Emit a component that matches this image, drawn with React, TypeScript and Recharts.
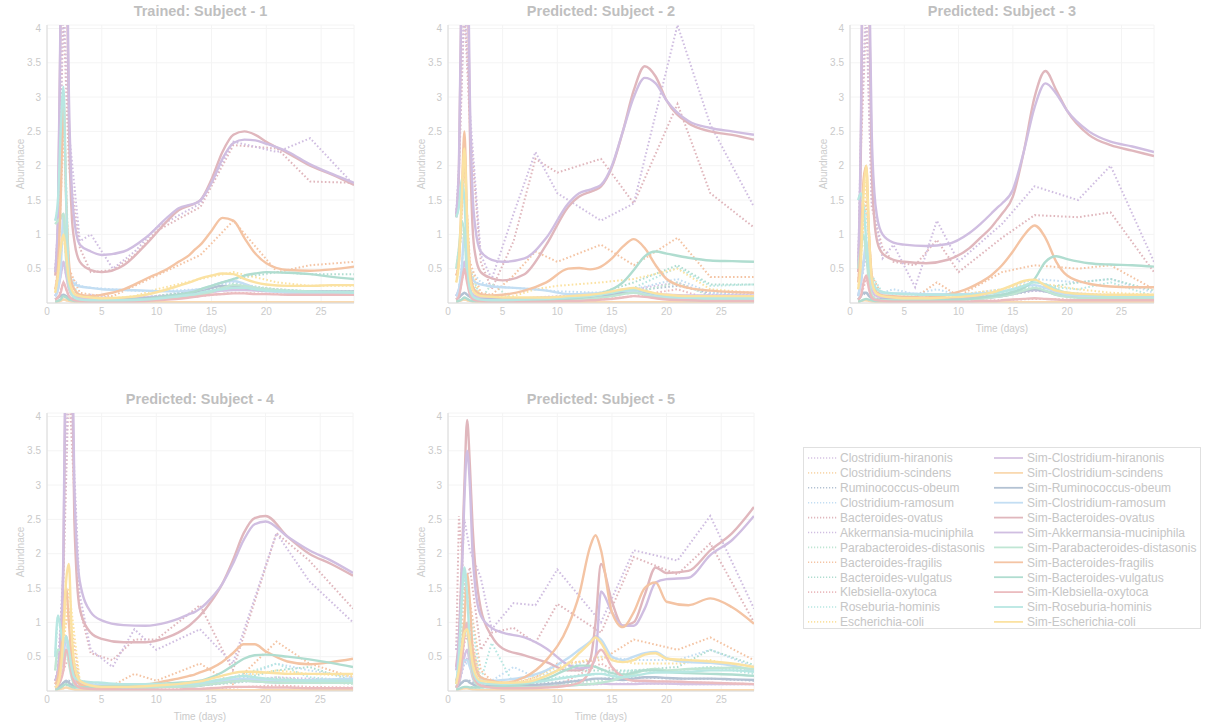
import { LineChart, Line, XAxis, YAxis, CartesianGrid } from 'recharts';

const FONT = '"Liberation Sans", Arial, Helvetica, sans-serif';

const SPECIES = [
  'Clostridium-hiranonis', 'Clostridium-scindens', 'Ruminococcus-obeum', 'Clostridium-ramosum',
  'Bacteroides-ovatus', 'Akkermansia-muciniphila', 'Parabacteroides-distasonis', 'Bacteroides-fragilis',
  'Bacteroides-vulgatus', 'Klebsiella-oxytoca', 'Roseburia-hominis', 'Escherichia-coli',
];

const COLORS = [
  '#d6c3e3', '#f9d9b0', '#b3c2d3', '#c3def3', '#e0b7bd', '#d0bee1',
  '#c0e6d4', '#f4c4a4', '#b0ddd0', '#ebbcbf', '#b8e7e2', '#fbe2a2',
];

const X_TICKS = [0, 5, 10, 15, 20, 25];
const Y_TICKS = [0.5, 1, 1.5, 2, 2.5, 3, 3.5, 4];

// simulation time grid (days)
const SIM_T = [0.75, 1, 1.25, 1.5, 1.75, 2, 2.25, 2.5, 3, 4, 5, 7, 9, 11, 12, 13, 13.5, 14, 15, 16, 17, 18, 19, 20, 22, 24, 26, 28];
// sampling days of the measured data
const OBS_T = [0.75, 1, 1.5, 2, 3, 4, 6, 8, 10, 14, 17, 21, 24, 28];

const SIM_1 = [
  [0.1, 0.2, 0.4, 0.6, 0.4, 0.2, 0.12, 0.1, 0.08, 0.07, 0.07, 0.07, 0.08, 0.1, 0.11, 0.12, 0.13, 0.14, 0.16, 0.18, 0.19, 0.19, 0.18, 0.17, 0.17, 0.16, 0.16, 0.16],
  [0.02, 0.02, 0.03, 0.05, 0.04, 0.03, 0.02, 0.02, 0.01, 0.01, 0.01, 0.01, 0.01, 0.01, 0.01, 0.01, 0.01, 0.01, 0.01, 0.01, 0.01, 0.01, 0.01, 0.01, 0.01, 0.01, 0.01, 0.01],
  [0.05, 0.08, 0.1, 0.12, 0.1, 0.08, 0.06, 0.05, 0.04, 0.04, 0.04, 0.05, 0.07, 0.1, 0.12, 0.15, 0.16, 0.18, 0.22, 0.25, 0.24, 0.22, 0.2, 0.18, 0.17, 0.17, 0.17, 0.17],
  [0.1, 0.2, 0.5, 1.3, 0.8, 0.45, 0.32, 0.28, 0.24, 0.22, 0.2, 0.19, 0.18, 0.17, 0.17, 0.18, 0.19, 0.2, 0.25, 0.3, 0.32, 0.28, 0.22, 0.18, 0.15, 0.14, 0.14, 0.14],
  [0.4, 1.2, 4.3, 7.5, 5.5, 2.6, 1.3, 0.9, 0.6, 0.48, 0.45, 0.55, 0.85, 1.2, 1.35, 1.42, 1.45, 1.5, 1.8, 2.2, 2.45, 2.5, 2.45, 2.35, 2.18, 2.0, 1.87, 1.72],
  [0.45, 1.3, 4.5, 8, 6, 3, 1.7, 1.2, 0.85, 0.75, 0.7, 0.75, 0.95, 1.25, 1.38, 1.43, 1.45, 1.5, 1.75, 2.1, 2.33, 2.38, 2.37, 2.32, 2.2, 2.02, 1.88, 1.75],
  [1.15, 1.2, 1.25, 1.3, 0.6, 0.25, 0.12, 0.08, 0.05, 0.04, 0.04, 0.04, 0.05, 0.07, 0.08, 0.1, 0.11, 0.12, 0.16, 0.22, 0.26, 0.25, 0.22, 0.2, 0.18, 0.17, 0.16, 0.16],
  [0.2, 0.5, 1.5, 3.0, 1.5, 0.6, 0.3, 0.2, 0.12, 0.1, 0.12, 0.2, 0.35, 0.5, 0.6, 0.7, 0.78, 0.85, 1.05, 1.24, 1.2, 0.95, 0.72, 0.58, 0.48, 0.47, 0.49, 0.53],
  [0.02, 0.03, 0.05, 0.1, 0.08, 0.05, 0.04, 0.03, 0.03, 0.03, 0.03, 0.04, 0.06, 0.1, 0.12, 0.15, 0.17, 0.2, 0.25, 0.3, 0.35, 0.4, 0.43, 0.45, 0.44, 0.42, 0.38, 0.35],
  [0.05, 0.08, 0.15, 0.3, 0.2, 0.1, 0.06, 0.04, 0.03, 0.02, 0.02, 0.02, 0.03, 0.05, 0.06, 0.08, 0.09, 0.1, 0.12, 0.13, 0.14, 0.14, 0.13, 0.13, 0.12, 0.12, 0.12, 0.12],
  [1.2, 1.5, 2.5, 3.15, 1.5, 0.4, 0.15, 0.08, 0.05, 0.04, 0.04, 0.04, 0.05, 0.08, 0.1, 0.12, 0.13, 0.15, 0.18, 0.2, 0.22, 0.22, 0.2, 0.18, 0.17, 0.16, 0.16, 0.15],
  [0.15, 0.4, 0.8, 1.0, 0.7, 0.35, 0.2, 0.13, 0.1, 0.08, 0.07, 0.08, 0.12, 0.2, 0.25, 0.3, 0.33, 0.36, 0.4, 0.43, 0.42, 0.35, 0.3, 0.27, 0.25, 0.25, 0.26, 0.26],
];
const OBS_1 = [
  [0.1, 0.2, 0.6, 0.2, 0.08, 0.12, 0.07, 0.08, 0.1, 0.14, 0.2, 0.18, 0.16, 0.16],
  [0.02, 0.02, 0.05, 0.03, 0.01, 0.01, 0.01, 0.01, 0.01, 0.01, 0.01, 0.01, 0.01, 0.01],
  [0.05, 0.08, 0.12, 0.08, 0.05, 0.04, 0.05, 0.07, 0.1, 0.18, 0.25, 0.2, 0.17, 0.17],
  [0.1, 0.2, 1.2, 0.4, 0.25, 0.22, 0.2, 0.18, 0.17, 0.2, 0.3, 0.18, 0.15, 0.15],
  [0.45, 1.0, 4.2, 2.0, 0.8, 0.45, 0.48, 0.7, 1.05, 1.4, 2.3, 2.25, 1.77, 1.75],
  [0.5, 1.1, 4.5, 2.5, 0.9, 1.0, 0.5, 0.75, 1.1, 1.45, 2.35, 2.2, 2.4, 1.72],
  [1.15, 1.2, 1.25, 0.3, 0.06, 0.1, 0.04, 0.05, 0.07, 0.12, 0.28, 0.2, 0.17, 0.16],
  [0.2, 0.5, 2.5, 0.5, 0.15, 0.12, 0.1, 0.25, 0.4, 0.7, 1.2, 0.45, 0.55, 0.6],
  [0.02, 0.03, 0.1, 0.05, 0.03, 0.03, 0.04, 0.06, 0.1, 0.2, 0.35, 0.45, 0.42, 0.42],
  [0.05, 0.08, 0.3, 0.1, 0.03, 0.02, 0.02, 0.03, 0.05, 0.1, 0.15, 0.13, 0.12, 0.12],
  [1.2, 1.4, 3.1, 0.4, 0.08, 0.05, 0.04, 0.05, 0.08, 0.15, 0.22, 0.18, 0.16, 0.15],
  [0.15, 0.3, 1.0, 0.3, 0.1, 0.08, 0.07, 0.1, 0.2, 0.35, 0.45, 0.3, 0.25, 0.25],
];

const SIM_2 = [
  [0.1, 0.2, 0.4, 0.6, 0.4, 0.2, 0.13, 0.1, 0.08, 0.07, 0.07, 0.07, 0.08, 0.09, 0.1, 0.11, 0.12, 0.13, 0.15, 0.17, 0.18, 0.16, 0.13, 0.12, 0.11, 0.11, 0.11, 0.11],
  [0.02, 0.03, 0.04, 0.05, 0.04, 0.03, 0.02, 0.02, 0.01, 0.01, 0.01, 0.01, 0.01, 0.01, 0.01, 0.01, 0.01, 0.01, 0.01, 0.01, 0.01, 0.01, 0.01, 0.01, 0.01, 0.01, 0.01, 0.01],
  [0.05, 0.08, 0.12, 0.15, 0.12, 0.09, 0.07, 0.06, 0.05, 0.05, 0.05, 0.05, 0.05, 0.06, 0.07, 0.08, 0.09, 0.1, 0.12, 0.15, 0.16, 0.14, 0.11, 0.09, 0.08, 0.08, 0.08, 0.08],
  [0.1, 0.2, 0.5, 1.0, 0.7, 0.45, 0.35, 0.3, 0.27, 0.24, 0.23, 0.21, 0.18, 0.13, 0.13, 0.14, 0.14, 0.15, 0.17, 0.18, 0.17, 0.13, 0.1, 0.08, 0.06, 0.05, 0.05, 0.05],
  [1.25, 1.9, 4.8, 7.5, 5.5, 2.5, 1.1, 0.7, 0.45, 0.36, 0.33, 0.42, 0.85, 1.4, 1.55, 1.62, 1.65, 1.7, 1.98, 2.5, 3.1, 3.45, 3.3, 2.95, 2.62, 2.5, 2.45, 2.38],
  [1.3, 2.0, 5, 8, 6, 3, 1.6, 1.1, 0.75, 0.63, 0.6, 0.65, 0.95, 1.45, 1.6, 1.65, 1.68, 1.72, 2.0, 2.5, 3.0, 3.28, 3.2, 2.95, 2.65, 2.55, 2.5, 2.45],
  [0.5, 0.8, 1.2, 1.0, 0.4, 0.15, 0.08, 0.05, 0.04, 0.03, 0.03, 0.03, 0.03, 0.04, 0.05, 0.06, 0.07, 0.08, 0.1, 0.13, 0.15, 0.12, 0.08, 0.06, 0.04, 0.04, 0.04, 0.03],
  [0.4, 0.6, 1.5, 2.5, 1.2, 0.5, 0.25, 0.18, 0.13, 0.11, 0.12, 0.18, 0.3, 0.5, 0.51, 0.49, 0.5, 0.53, 0.65, 0.82, 0.93, 0.8, 0.55, 0.35, 0.22, 0.18, 0.16, 0.15],
  [0.02, 0.03, 0.05, 0.08, 0.06, 0.04, 0.03, 0.03, 0.03, 0.03, 0.03, 0.03, 0.04, 0.06, 0.08, 0.1, 0.12, 0.14, 0.2, 0.3, 0.48, 0.68, 0.75, 0.72, 0.66, 0.62, 0.61, 0.6],
  [0.05, 0.1, 0.3, 0.5, 0.3, 0.12, 0.06, 0.04, 0.03, 0.02, 0.02, 0.02, 0.02, 0.03, 0.03, 0.04, 0.04, 0.05, 0.06, 0.08, 0.1, 0.09, 0.07, 0.05, 0.04, 0.03, 0.03, 0.03],
  [1.25, 1.4, 1.8, 1.5, 0.6, 0.2, 0.1, 0.07, 0.05, 0.04, 0.04, 0.05, 0.06, 0.08, 0.09, 0.1, 0.11, 0.12, 0.15, 0.18, 0.2, 0.17, 0.13, 0.1, 0.08, 0.07, 0.07, 0.07],
  [0.3, 0.6, 1.5, 2.25, 1.2, 0.4, 0.2, 0.14, 0.1, 0.09, 0.08, 0.08, 0.08, 0.1, 0.11, 0.12, 0.13, 0.14, 0.17, 0.2, 0.22, 0.18, 0.14, 0.12, 0.1, 0.1, 0.1, 0.1],
];
const OBS_2 = [
  [0.1, 0.2, 0.6, 0.2, 0.08, 0.07, 0.06, 0.08, 0.1, 0.12, 0.2, 0.3, 0.12, 0.12],
  [0.02, 0.03, 0.05, 0.03, 0.01, 0.01, 0.01, 0.01, 0.01, 0.01, 0.01, 0.01, 0.01, 0.01],
  [0.05, 0.08, 0.15, 0.1, 0.06, 0.05, 0.05, 0.06, 0.08, 0.1, 0.18, 0.25, 0.15, 0.15],
  [0.1, 0.2, 0.9, 0.5, 0.3, 0.25, 0.22, 0.2, 0.17, 0.15, 0.2, 0.35, 0.15, 0.1],
  [1.25, 1.9, 4.3, 2.6, 0.6, 0.2, 0.9, 2.1, 1.9, 2.1, 1.45, 2.9, 1.6, 1.1],
  [1.3, 2.0, 4.5, 2.8, 0.7, 0.35, 1.3, 2.2, 1.6, 1.2, 1.45, 4.05, 2.6, 1.4],
  [0.5, 0.8, 1.1, 0.4, 0.05, 0.28, 0.04, 0.04, 0.05, 0.1, 0.15, 0.3, 0.1, 0.08],
  [0.4, 0.6, 2.0, 0.6, 0.15, 0.12, 0.4, 0.75, 0.6, 0.85, 0.55, 0.95, 0.38, 0.38],
  [0.02, 0.03, 0.06, 0.04, 0.03, 0.03, 0.03, 0.04, 0.06, 0.15, 0.3, 0.55, 0.27, 0.27],
  [0.05, 0.1, 0.5, 0.15, 0.03, 0.02, 0.02, 0.03, 0.04, 0.05, 0.1, 0.2, 0.05, 0.04],
  [1.25, 1.4, 1.6, 0.5, 0.06, 0.04, 0.05, 0.06, 0.08, 0.12, 0.22, 0.52, 0.25, 0.27],
  [0.3, 0.6, 2.0, 0.5, 0.1, 0.09, 0.1, 0.2, 0.25, 0.3, 0.35, 0.5, 0.2, 0.15],
];

const SIM_3 = [
  [0.1, 0.3, 0.6, 0.7, 0.4, 0.2, 0.12, 0.1, 0.08, 0.07, 0.07, 0.07, 0.07, 0.08, 0.09, 0.1, 0.11, 0.12, 0.14, 0.17, 0.19, 0.17, 0.14, 0.12, 0.11, 0.1, 0.1, 0.1],
  [0.02, 0.03, 0.04, 0.04, 0.03, 0.02, 0.02, 0.01, 0.01, 0.01, 0.01, 0.01, 0.01, 0.01, 0.01, 0.01, 0.01, 0.01, 0.01, 0.01, 0.01, 0.01, 0.01, 0.01, 0.01, 0.01, 0.01, 0.01],
  [0.05, 0.1, 0.15, 0.15, 0.1, 0.07, 0.06, 0.05, 0.05, 0.05, 0.05, 0.05, 0.05, 0.06, 0.07, 0.08, 0.09, 0.1, 0.13, 0.17, 0.2, 0.17, 0.12, 0.1, 0.08, 0.08, 0.08, 0.08],
  [0.1, 0.3, 0.6, 0.9, 0.5, 0.25, 0.18, 0.15, 0.14, 0.14, 0.14, 0.13, 0.13, 0.13, 0.14, 0.15, 0.16, 0.17, 0.2, 0.24, 0.26, 0.22, 0.16, 0.12, 0.1, 0.09, 0.09, 0.09],
  [0.45, 2.2, 6.5, 8.5, 4.5, 2.0, 1.2, 0.9, 0.72, 0.63, 0.6, 0.58, 0.63, 0.8, 0.95, 1.1, 1.2, 1.3, 1.55, 2.2, 3.0, 3.38, 3.1, 2.8, 2.45, 2.3, 2.22, 2.14],
  [0.5, 2.5, 7, 9, 5, 2.5, 1.6, 1.25, 1.0, 0.88, 0.85, 0.83, 0.86, 1.02, 1.15, 1.3, 1.38, 1.45, 1.65, 2.2, 2.85, 3.2, 3.05, 2.8, 2.5, 2.35, 2.28, 2.2],
  [0.5, 0.8, 1.0, 0.7, 0.3, 0.12, 0.07, 0.05, 0.04, 0.04, 0.04, 0.04, 0.04, 0.05, 0.06, 0.08, 0.09, 0.1, 0.13, 0.18, 0.22, 0.18, 0.12, 0.09, 0.07, 0.07, 0.07, 0.06],
  [0.3, 0.8, 1.8, 2.0, 1.0, 0.4, 0.2, 0.15, 0.11, 0.1, 0.09, 0.08, 0.12, 0.22, 0.3, 0.4, 0.47, 0.55, 0.75, 0.98, 1.13, 0.95, 0.6, 0.4, 0.28, 0.24, 0.23, 0.23],
  [0.02, 0.03, 0.05, 0.06, 0.05, 0.04, 0.03, 0.03, 0.03, 0.03, 0.03, 0.03, 0.04, 0.06, 0.08, 0.1, 0.11, 0.12, 0.16, 0.22, 0.35, 0.6, 0.68, 0.64, 0.58, 0.56, 0.55, 0.53],
  [0.05, 0.1, 0.3, 0.4, 0.2, 0.08, 0.05, 0.04, 0.03, 0.02, 0.02, 0.02, 0.02, 0.02, 0.03, 0.03, 0.03, 0.04, 0.05, 0.06, 0.07, 0.06, 0.05, 0.04, 0.04, 0.04, 0.04, 0.04],
  [1.5, 1.6, 1.4, 0.9, 0.5, 0.35, 0.25, 0.2, 0.16, 0.14, 0.13, 0.12, 0.12, 0.12, 0.13, 0.14, 0.15, 0.16, 0.2, 0.25, 0.3, 0.27, 0.2, 0.15, 0.12, 0.1, 0.1, 0.1],
  [0.2, 0.6, 1.6, 2.0, 1.0, 0.35, 0.18, 0.13, 0.1, 0.08, 0.07, 0.07, 0.08, 0.1, 0.12, 0.15, 0.17, 0.2, 0.26, 0.32, 0.34, 0.25, 0.18, 0.15, 0.13, 0.12, 0.12, 0.12],
];
const OBS_3 = [
  [0.1, 0.3, 0.7, 0.2, 0.08, 0.07, 0.07, 0.08, 0.08, 0.12, 0.18, 0.14, 0.12, 0.1],
  [0.02, 0.03, 0.04, 0.03, 0.01, 0.01, 0.01, 0.01, 0.01, 0.01, 0.01, 0.01, 0.01, 0.01],
  [0.05, 0.1, 0.15, 0.08, 0.05, 0.05, 0.05, 0.05, 0.06, 0.1, 0.18, 0.12, 0.1, 0.08],
  [0.1, 0.3, 0.8, 0.3, 0.15, 0.2, 0.13, 0.2, 0.12, 0.2, 0.35, 0.3, 0.35, 0.15],
  [0.45, 2.2, 4.2, 1.4, 0.8, 0.6, 0.55, 0.92, 0.45, 0.95, 1.28, 1.25, 1.32, 0.45],
  [0.5, 2.5, 4.5, 1.5, 0.65, 0.85, 0.23, 1.2, 0.6, 1.15, 1.7, 1.5, 2.0, 0.6],
  [0.5, 0.8, 0.9, 0.3, 0.05, 0.04, 0.04, 0.05, 0.06, 0.1, 0.2, 0.1, 0.1, 0.06],
  [0.3, 0.8, 1.5, 0.4, 0.1, 0.08, 0.08, 0.3, 0.1, 0.45, 0.55, 0.5, 0.55, 0.2],
  [0.02, 0.03, 0.05, 0.04, 0.03, 0.03, 0.03, 0.04, 0.05, 0.1, 0.2, 0.3, 0.35, 0.18],
  [0.05, 0.1, 0.35, 0.1, 0.03, 0.02, 0.02, 0.02, 0.03, 0.04, 0.06, 0.05, 0.05, 0.04],
  [1.5, 1.55, 1.3, 0.4, 0.15, 0.13, 0.12, 0.12, 0.12, 0.15, 0.25, 0.2, 0.3, 0.1],
  [0.2, 0.6, 1.8, 0.3, 0.1, 0.08, 0.07, 0.1, 0.12, 0.2, 0.3, 0.2, 0.15, 0.12],
];

const SIM_4 = [
  [0.1, 0.15, 0.3, 0.5, 0.8, 0.6, 0.3, 0.15, 0.1, 0.08, 0.07, 0.07, 0.07, 0.08, 0.08, 0.09, 0.09, 0.1, 0.11, 0.13, 0.15, 0.16, 0.16, 0.15, 0.14, 0.14, 0.15, 0.15],
  [0.02, 0.02, 0.03, 0.04, 0.05, 0.04, 0.03, 0.02, 0.01, 0.01, 0.01, 0.01, 0.01, 0.01, 0.01, 0.01, 0.01, 0.01, 0.01, 0.01, 0.01, 0.01, 0.01, 0.01, 0.01, 0.01, 0.01, 0.01],
  [0.05, 0.06, 0.08, 0.12, 0.15, 0.12, 0.09, 0.07, 0.06, 0.05, 0.05, 0.05, 0.05, 0.06, 0.06, 0.07, 0.07, 0.08, 0.1, 0.12, 0.14, 0.15, 0.14, 0.13, 0.12, 0.12, 0.13, 0.13],
  [0.05, 0.1, 0.3, 0.6, 0.8, 0.5, 0.3, 0.2, 0.13, 0.1, 0.09, 0.08, 0.08, 0.09, 0.09, 0.1, 0.1, 0.11, 0.13, 0.15, 0.17, 0.18, 0.17, 0.16, 0.15, 0.16, 0.17, 0.18],
  [0.15, 0.3, 0.75, 1.8, 5.5, 8.5, 5.5, 2.5, 1.2, 0.85, 0.76, 0.71, 0.71, 0.78, 0.85, 0.95, 1.02, 1.1, 1.3, 1.55, 1.9, 2.3, 2.52, 2.55, 2.25, 2.0, 1.85, 1.68],
  [0.15, 0.3, 0.8, 2.0, 6, 9, 6, 3.0, 1.6, 1.15, 1.03, 0.96, 0.95, 1.0, 1.05, 1.12, 1.15, 1.2, 1.35, 1.55, 1.85, 2.2, 2.43, 2.47, 2.25, 2.05, 1.9, 1.72],
  [0.3, 0.6, 0.6, 0.5, 0.6, 0.4, 0.2, 0.1, 0.06, 0.05, 0.05, 0.05, 0.05, 0.06, 0.06, 0.07, 0.07, 0.08, 0.1, 0.12, 0.14, 0.15, 0.14, 0.13, 0.12, 0.12, 0.12, 0.12],
  [0.1, 0.2, 0.5, 1.0, 1.5, 1.0, 0.5, 0.25, 0.1, 0.05, 0.04, 0.06, 0.09, 0.15, 0.18, 0.22, 0.24, 0.27, 0.33, 0.42, 0.55, 0.68, 0.68, 0.58, 0.43, 0.39, 0.42, 0.47],
  [0.02, 0.03, 0.05, 0.08, 0.1, 0.08, 0.06, 0.05, 0.05, 0.06, 0.07, 0.08, 0.1, 0.11, 0.12, 0.13, 0.14, 0.15, 0.2, 0.27, 0.37, 0.47, 0.52, 0.53, 0.5, 0.46, 0.41, 0.35],
  [0.05, 0.08, 0.15, 0.3, 0.6, 0.5, 0.25, 0.12, 0.05, 0.03, 0.02, 0.02, 0.02, 0.02, 0.02, 0.03, 0.03, 0.03, 0.04, 0.05, 0.06, 0.06, 0.06, 0.05, 0.05, 0.04, 0.04, 0.04],
  [0.5, 1.1, 0.9, 0.7, 0.8, 0.6, 0.35, 0.2, 0.15, 0.13, 0.12, 0.1, 0.1, 0.1, 0.1, 0.11, 0.11, 0.12, 0.14, 0.17, 0.2, 0.22, 0.2, 0.18, 0.16, 0.15, 0.15, 0.15],
  [0.05, 0.1, 0.3, 0.8, 1.6, 1.85, 0.9, 0.4, 0.15, 0.08, 0.06, 0.06, 0.07, 0.09, 0.1, 0.12, 0.13, 0.14, 0.18, 0.22, 0.26, 0.28, 0.28, 0.27, 0.25, 0.25, 0.25, 0.25],
];
const OBS_4 = [
  [0.1, 0.15, 0.4, 0.7, 0.1, 0.08, 0.07, 0.07, 0.08, 0.1, 0.14, 0.2, 0.18, 0.15],
  [0.02, 0.02, 0.04, 0.05, 0.01, 0.01, 0.01, 0.01, 0.01, 0.01, 0.01, 0.01, 0.01, 0.01],
  [0.05, 0.06, 0.1, 0.15, 0.06, 0.05, 0.05, 0.05, 0.06, 0.08, 0.12, 0.18, 0.15, 0.12],
  [0.05, 0.1, 0.5, 0.7, 0.15, 0.1, 0.08, 0.08, 0.09, 0.11, 0.15, 0.4, 0.3, 0.2],
  [0.15, 0.3, 1.6, 4.5, 1.2, 0.55, 0.45, 0.75, 0.75, 1.25, 0.3, 2.3, 1.9, 1.2],
  [0.15, 0.3, 1.8, 5, 1.4, 0.6, 0.35, 0.9, 0.6, 0.9, 0.4, 2.3, 1.6, 1.0],
  [0.3, 0.6, 0.5, 0.5, 0.08, 0.05, 0.05, 0.05, 0.06, 0.08, 0.12, 0.2, 0.15, 0.1],
  [0.1, 0.2, 0.8, 1.2, 0.1, 0.06, 0.08, 0.25, 0.15, 0.4, 0.1, 0.72, 0.4, 0.2],
  [0.02, 0.03, 0.06, 0.1, 0.05, 0.06, 0.07, 0.08, 0.1, 0.12, 0.15, 0.3, 0.35, 0.15],
  [0.05, 0.08, 0.3, 0.5, 0.05, 0.03, 0.02, 0.02, 0.02, 0.03, 0.05, 0.08, 0.06, 0.05],
  [0.5, 1.1, 0.8, 0.6, 0.15, 0.12, 0.1, 0.1, 0.1, 0.12, 0.2, 0.4, 0.2, 0.15],
  [0.05, 0.1, 0.6, 1.5, 0.15, 0.08, 0.06, 0.07, 0.09, 0.12, 0.2, 0.3, 0.25, 0.22],
];

const SIM_5 = [
  [0.05, 0.1, 0.3, 0.5, 0.6, 0.4, 0.2, 0.12, 0.08, 0.07, 0.06, 0.06, 0.07, 0.08, 0.09, 0.1, 0.1, 0.11, 0.1, 0.1, 0.1, 0.11, 0.11, 0.11, 0.1, 0.1, 0.1, 0.1],
  [0.02, 0.02, 0.03, 0.04, 0.04, 0.03, 0.02, 0.02, 0.01, 0.01, 0.01, 0.01, 0.01, 0.01, 0.01, 0.01, 0.01, 0.01, 0.01, 0.01, 0.01, 0.01, 0.01, 0.01, 0.01, 0.01, 0.01, 0.01],
  [0.05, 0.08, 0.12, 0.15, 0.15, 0.12, 0.1, 0.08, 0.07, 0.07, 0.07, 0.08, 0.1, 0.13, 0.15, 0.17, 0.18, 0.18, 0.17, 0.16, 0.18, 0.2, 0.2, 0.19, 0.18, 0.18, 0.17, 0.16],
  [0.05, 0.15, 0.35, 0.45, 0.45, 0.35, 0.25, 0.2, 0.16, 0.15, 0.16, 0.2, 0.3, 0.48, 0.6, 0.72, 0.8, 0.75, 0.5, 0.45, 0.5, 0.55, 0.57, 0.48, 0.42, 0.41, 0.37, 0.3],
  [0.35, 0.8, 1.8, 3.0, 3.95, 3.3, 2.4, 1.8, 1.2, 0.8, 0.62, 0.52, 0.42, 0.3, 0.3, 0.45, 1.0, 1.85, 1.3, 0.95, 1.0, 1.4, 1.8, 1.72, 1.75, 2.05, 2.3, 2.68],
  [0.3, 0.7, 1.6, 2.8, 3.5, 3.0, 2.0, 1.5, 1.1, 0.92, 0.85, 0.78, 0.62, 0.38, 0.33, 0.35, 0.5, 1.45, 1.15, 0.95, 0.95, 1.2, 1.58, 1.63, 1.65, 1.98, 2.2, 2.55],
  [0.05, 0.2, 0.6, 1.0, 0.9, 0.5, 0.25, 0.12, 0.07, 0.05, 0.05, 0.05, 0.06, 0.08, 0.09, 0.1, 0.11, 0.12, 0.15, 0.2, 0.25, 0.3, 0.32, 0.3, 0.32, 0.33, 0.34, 0.32],
  [0.15, 0.3, 0.6, 1.0, 1.7, 1.3, 0.6, 0.35, 0.2, 0.15, 0.12, 0.2, 0.45, 0.95, 1.4, 2.1, 2.27, 2.05, 1.15, 0.93, 1.15, 1.5, 1.58, 1.3, 1.25, 1.35, 1.22, 0.98],
  [0.02, 0.03, 0.05, 0.06, 0.06, 0.05, 0.05, 0.05, 0.05, 0.06, 0.07, 0.1, 0.18, 0.32, 0.37, 0.37, 0.35, 0.32, 0.26, 0.24, 0.27, 0.3, 0.3, 0.28, 0.26, 0.25, 0.24, 0.22],
  [0.05, 0.15, 0.4, 0.8, 1.0, 0.6, 0.3, 0.15, 0.08, 0.05, 0.04, 0.04, 0.05, 0.08, 0.12, 0.3, 0.5, 0.6, 0.35, 0.2, 0.15, 0.15, 0.14, 0.14, 0.13, 0.12, 0.11, 0.1],
  [0.1, 0.5, 1.3, 1.8, 1.4, 0.7, 0.35, 0.2, 0.12, 0.1, 0.1, 0.12, 0.15, 0.2, 0.22, 0.24, 0.25, 0.25, 0.22, 0.2, 0.22, 0.25, 0.27, 0.27, 0.28, 0.3, 0.3, 0.28],
  [0.1, 0.3, 0.6, 0.85, 0.9, 0.7, 0.4, 0.25, 0.15, 0.13, 0.12, 0.13, 0.22, 0.4, 0.55, 0.7, 0.78, 0.7, 0.45, 0.42, 0.45, 0.53, 0.55, 0.47, 0.45, 0.43, 0.4, 0.35],
];
const OBS_5 = [
  [0.05, 0.1, 0.4, 0.55, 0.1, 0.07, 0.06, 0.07, 0.08, 0.1, 0.11, 0.1, 0.1, 0.1],
  [0.02, 0.02, 0.04, 0.04, 0.01, 0.01, 0.01, 0.01, 0.01, 0.01, 0.01, 0.01, 0.01, 0.01],
  [0.05, 0.08, 0.15, 0.15, 0.08, 0.07, 0.08, 0.1, 0.13, 0.18, 0.2, 0.18, 0.18, 0.15],
  [0.05, 0.15, 0.4, 0.4, 0.2, 0.15, 0.35, 0.2, 0.3, 0.5, 0.45, 0.45, 0.6, 0.35],
  [0.6, 2.55, 1.5, 1.8, 0.6, 0.85, 0.92, 0.7, 1.27, 0.85, 1.95, 1.7, 2.15, 1.0],
  [0.6, 1.0, 2.5, 2.05, 1.65, 0.9, 1.28, 1.25, 1.77, 1.0, 2.05, 1.9, 2.55, 1.2],
  [0.05, 0.2, 0.9, 0.8, 0.08, 0.05, 0.05, 0.06, 0.1, 0.15, 0.3, 0.3, 0.35, 0.3],
  [0.15, 0.3, 1.5, 1.3, 0.3, 0.15, 0.1, 0.2, 0.4, 0.45, 0.75, 0.6, 0.78, 0.45],
  [0.02, 0.03, 0.06, 0.06, 0.05, 0.06, 0.08, 0.15, 0.3, 0.3, 0.3, 0.35, 0.6, 0.38],
  [0.05, 0.15, 0.7, 0.9, 0.1, 0.05, 0.04, 0.05, 0.08, 0.4, 0.15, 0.13, 0.12, 0.1],
  [0.1, 0.5, 1.7, 1.2, 0.15, 0.7, 0.1, 0.12, 0.2, 0.25, 0.3, 0.3, 0.35, 0.25],
  [0.1, 0.3, 0.8, 0.8, 0.15, 0.12, 0.12, 0.2, 0.35, 0.5, 0.4, 0.4, 0.45, 0.3],
];

const PANELS = [
  { title: 'Trained: Subject - 1', sim: SIM_1, obs: OBS_1, left: 0, top: 0, width: 360 },
  { title: 'Predicted: Subject - 2', sim: SIM_2, obs: OBS_2, left: 401, top: 0, width: 359 },
  { title: 'Predicted: Subject - 3', sim: SIM_3, obs: OBS_3, left: 803, top: 0, width: 357 },
  { title: 'Predicted: Subject - 4', sim: SIM_4, obs: OBS_4, left: 0, top: 388, width: 359 },
  { title: 'Predicted: Subject - 5', sim: SIM_5, obs: OBS_5, left: 401, top: 388, width: 359 },
];

const toPoints = (ts: number[], vs: number[]) => ts.map((t, i) => ({ t, v: vs[i] }));

const PANEL_H = 335;
const Y_AXIS_W = 47;
const RIGHT_PAD = 6;

function Panel({ title, sim, obs, left, top, width }: any) {
  return (
    <div style={{ position: 'absolute', left, top, width, height: PANEL_H }}>
      <div
        style={{
          position: 'absolute', top: 3, left: Y_AXIS_W, width: width - Y_AXIS_W - RIGHT_PAD,
          textAlign: 'center', fontSize: 14.5, fontWeight: 'bold', color: '#bfbfbf', lineHeight: '17px',
        }}
      >
        {title}
      </div>
      <div
        style={{
          position: 'absolute', left: -29, top: 158, width: 100, textAlign: 'center',
          fontSize: 10, lineHeight: '12px', color: '#cdcdcd', transform: 'rotate(-90deg)',
        }}
      >
        Abundnace
      </div>
      <LineChart width={width} height={PANEL_H} margin={{ top: 25, right: RIGHT_PAD, bottom: 0, left: 0 }}>
        <CartesianGrid stroke="#f4f4f4" />
        <XAxis
          dataKey="t" type="number" domain={[0, 28]} ticks={X_TICKS} allowDataOverflow
          height={32} tickLine={false} tickSize={5} tickMargin={0} stroke="#dadada"
          tick={{ fill: '#cacaca', fontSize: 10 }}
          label={{ value: 'Time (days)', position: 'insideBottom', offset: 3, fill: '#cacaca', fontSize: 10 }}
        />
        <YAxis
          type="number" domain={[0, 4.05]} ticks={Y_TICKS} allowDataOverflow
          width={Y_AXIS_W} tickLine={false} tickSize={5} tickMargin={1} stroke="#dadada"
          tick={{ fill: '#cacaca', fontSize: 10 }}
        />
        {obs.map((vals: number[], i: number) => (
          <Line
            key={'o' + i} data={toPoints(OBS_T, vals)} dataKey="v" type="linear"
            stroke={COLORS[i]} strokeWidth={2} strokeDasharray="1.6 2.2" dot={false}
            isAnimationActive={false}
          />
        ))}
        {sim.map((vals: number[], i: number) => (
          <Line
            key={'s' + i} data={toPoints(SIM_T, vals)} dataKey="v" type="monotone"
            stroke={COLORS[i]} strokeWidth={2.4} dot={false}
            isAnimationActive={false}
          />
        ))}
      </LineChart>
    </div>
  );
}

function LegendBox() {
  const rowY = (i: number) => 10 + i * 14.9;
  return (
    <div style={{ position: 'absolute', left: 803, top: 447, width: 396, height: 180, border: '1px solid #e0e0e0', background: '#fff' }}>
      <svg width={396} height={180} style={{ fontFamily: FONT }}>
        {SPECIES.map((s, i) => (
          <g key={s}>
            <line x1={4} x2={34} y1={rowY(i)} y2={rowY(i)} stroke={COLORS[i]} strokeWidth={1.6} strokeDasharray="1.2 1.8" />
            <text x={36} y={rowY(i)} dy="0.36em" fontSize={12} fill="#c6c6c6">{s}</text>
            <line x1={190} x2={219} y1={rowY(i)} y2={rowY(i)} stroke={COLORS[i]} strokeWidth={1.8} />
            <text x={223} y={rowY(i)} dy="0.36em" fontSize={12} fill="#c6c6c6">{'Sim-' + s}</text>
          </g>
        ))}
      </svg>
    </div>
  );
}

export default function App() {
  return (
    <div style={{ position: 'absolute', left: 0, top: 0, width: 1207, height: 723, background: '#fff', overflow: 'hidden', fontFamily: FONT }}>
      {PANELS.map((p) => (
        <Panel key={p.title} {...p} />
      ))}
      <LegendBox />
    </div>
  );
}
